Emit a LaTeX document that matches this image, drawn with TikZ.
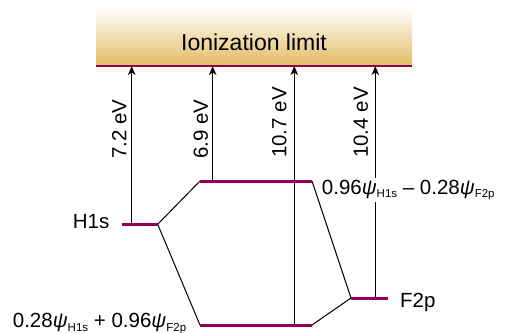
\documentclass[tikz,border=0pt]{standalone}
\usepackage{fontspec}
\setmainfont{Liberation Sans}
\usetikzlibrary{arrows.meta}
\definecolor{levelcol}{RGB}{145,0,85}
\definecolor{goldcol}{RGB}{227,187,98}
\newcommand{\psisub}[1]{\textit{ψ}\raisebox{-3.5pt}{\fontsize{11.5}{12}\selectfont #1}}
\begin{document}
\begin{tikzpicture}[x=1pt,y=-1pt,
  level/.style={levelcol, line width=3pt},
  conn/.style={black, line width=1pt},
  arr/.style={-{Stealth[length=9pt,width=7.5pt,inset=2.5pt]}, line width=1pt},
  evlab/.style={rotate=90, anchor=south west, inner sep=0pt, font=\fontsize{20.5}{24}\selectfont},
  lab/.style={inner sep=0pt, font=\fontsize{20.5}{24}\selectfont}]
\useasboundingbox (0,0) rectangle (508,332);
% ionization band
\shade[top color=white, bottom color=goldcol] (96,8) rectangle (412,66);
\node[font=\fontsize{23}{26}\selectfont, anchor=base, inner sep=0pt] (ion) at (254,50) {Ionization limit};
\coordinate (ionL) at (96,66);
\coordinate (ionR) at (412,66);
\draw[levelcol, line width=1.2pt] (ionL) -- (ionR);
% level end points
\coordinate (h1L) at (121.7,224.3); \coordinate (h1R) at (157.7,224.3);
\coordinate (upL) at (200,181);   \coordinate (upR) at (312,181);
\coordinate (loL) at (200,325);   \coordinate (loR) at (312,325);
\coordinate (fpL) at (351,298);   \coordinate (fpR) at (388,298);
% connectors
\draw[conn] (h1R) -- (upL);
\draw[conn] (h1R) -- (loL);
\draw[conn] (upR) -- (fpL);
\draw[conn] (loR) -- (fpL);
% arrows
\coordinate (a1) at (131.7,224.3); \coordinate (t1) at (131.7,66);
\coordinate (a2) at (212.7,181);   \coordinate (t2) at (212.7,66);
\coordinate (a3) at (294.3,325);   \coordinate (t3) at (294.3,66);
\coordinate (a4) at (375.3,298);   \coordinate (t4) at (375.3,66);
\draw[arr] (a1) -- (t1);
\draw[arr] (a2) -- (t2);
\draw[arr] (a3) -- (t3);
\draw[arr] (a4) -- (t4);
% levels
\draw[level] (h1L) -- (h1R);
\draw[level] (upL) -- (upR);
\draw[level] (loL) -- (loR);
\draw[level] (fpL) -- (fpR);
% energy labels
\node[evlab] (e1) at (126.7,159) {7.2 eV};
\node[evlab] (e2) at (208.3,159) {6.9 eV};
\node[evlab] (e3) at (286.7,158) {10.7 eV};
\node[evlab] (e4) at (368.3,158) {10.4 eV};
% level labels
\node[lab, anchor=base west] (lh1) at (72.7,228.3) {H1s};
\node[lab, anchor=base west] (lfp) at (400,307.7) {F2p};
\node[lab, anchor=base west, fill=white, inner sep=2pt] (lup) at (319.7,194) {0.96\psisub{H1s} – 0.28\psisub{F2p}};
\node[lab, anchor=base west] (llo) at (12.7,327.5) {0.28\psisub{H1s} + 0.96\psisub{F2p}};
\end{tikzpicture}
\end{document}
